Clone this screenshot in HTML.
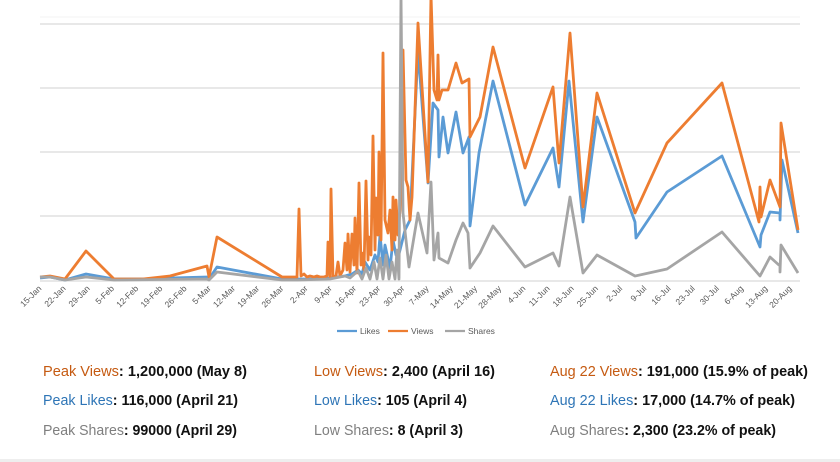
<!DOCTYPE html>
<html><head><meta charset="utf-8"><style>
html,body{margin:0;padding:0;background:#fff;}
svg{display:block;}
.xl{font-family:"Liberation Sans",sans-serif;font-size:8.5px;fill:#595959;}
.st{font-family:"Liberation Sans",sans-serif;font-size:15px;font-weight:bold;fill:#111;}
</style></head><body>
<svg width="840" height="462" viewBox="0 0 840 462" xmlns="http://www.w3.org/2000/svg">
<rect width="840" height="462" fill="#fff"/>
<line x1="40" y1="17" x2="800" y2="17" stroke="#f3f3f3" stroke-width="1"/>
<g stroke="#dadada" stroke-width="1.3">
<line x1="40" y1="24" x2="800" y2="24"/>
<line x1="40" y1="88" x2="800" y2="88"/>
<line x1="40" y1="152" x2="800" y2="152"/>
<line x1="40" y1="216" x2="800" y2="216"/>
<line x1="40" y1="281" x2="800" y2="281"/>
</g>
<g fill="none" stroke-width="2.8" stroke-linejoin="round">
<polyline stroke="#5B9BD5" points="40,278 50,277 55,278 65,280 86,274 114,279 143,279 170,278 207,277 209,279 217,267 282,279 298,279 315,279 330,278 345,276 352,274 358,270 362,274 365,262 370,270 375,255 378,262 380,235 383,265 385,245 390,268 393,240 396,255 398,258 400,250 405,230 410,220 418,50 428,183 433,103 438,110 439,157 443,117 448,153 456,112 463,153 469,137 470,226 479,153 493,81 525,205 553,148 559,187 569,81 583,222 597,117 635,222 636,238 667,192 722,156 760,247 761,235 770,212 780,213 780,220 782,160 798,233"/>
<polyline stroke="#ED7D31" points="40,277 50,276 55,277 65,279 86,251 114,279 143,279 170,276 207,266 209,277 217,237 282,277 297,277 299,209 301,276 304,274 307,277 310,276 314,277 317,276 320,277 324,277 327,276 328,242 330,277 331,189 333,277 336,276 338,262 340,276 343,270 345,243 347,270 348,234 350,272 352,234 354,265 355,218 357,273 359,183 361,265 362,253 364,270 366,181 368,260 369,237 371,255 373,136 375,250 376,198 378,235 379,152 381,240 383,53 385,220 388,233 390,210 392,250 393,197 395,240 396,200 398,235 400,210 403,50 406,180 408,187 410,220 412,197 418,23 428,182 431,-5 434,90 437,100 438,55 439,100 442,90 448,90 456,63 462,83 469,79 470,137 480,117 493,47 525,168 553,87 559,163 570,33 583,207 597,93 635,213 667,143 722,83 759,222 760,187 761,217 770,180 780,207 781,123 798,230"/>
<polyline stroke="#A5A5A5" points="40,277 50,277 65,280 86,277 114,280 207,279 209,280 217,272 282,280 298,280 330,279 345,276 350,278 358,271 362,279 366,268 370,279 374,262 377,279 380,258 383,279 386,255 389,279 392,262 395,279 397,250 399,279 401,-5 403,213 406,240 409,267 418,213 427,253 431,182 434,260 438,233 439,258 448,263 456,240 463,223 468,233 470,268 480,253 493,226 525,267 553,253 559,266 570,197 583,273 597,255 635,276 667,269 722,232 760,276 770,257 780,266 780,272 781,245 798,273"/>
</g>
<g font-family="Liberation Sans, sans-serif" font-size="8.5" fill="#595959">
<line x1="337" y1="331" x2="357" y2="331" stroke="#5B9BD5" stroke-width="2.2"/>
<text x="360" y="334">Likes</text>
<line x1="388" y1="331" x2="408" y2="331" stroke="#ED7D31" stroke-width="2.2"/>
<text x="411" y="334">Views</text>
<line x1="445" y1="331" x2="465" y2="331" stroke="#A5A5A5" stroke-width="2.2"/>
<text x="468" y="334">Shares</text>
</g>
<g class="st">
<text x="43" y="376" textLength="204" lengthAdjust="spacingAndGlyphs"><tspan fill="#C55A11" font-weight="normal">Peak Views</tspan>: 1,200,000 (May 8)</text>
<text x="43" y="405" textLength="195" lengthAdjust="spacingAndGlyphs"><tspan fill="#2E75B6" font-weight="normal">Peak Likes</tspan>: 116,000 (April 21)</text>
<text x="43" y="435" textLength="194" lengthAdjust="spacingAndGlyphs"><tspan fill="#7F7F7F" font-weight="normal">Peak Shares</tspan>: 99000 (April 29)</text>
<text x="314" y="376" textLength="181" lengthAdjust="spacingAndGlyphs"><tspan fill="#C55A11" font-weight="normal">Low Views</tspan>: 2,400 (April 16)</text>
<text x="314" y="405" textLength="153" lengthAdjust="spacingAndGlyphs"><tspan fill="#2E75B6" font-weight="normal">Low Likes</tspan>: 105 (April 4)</text>
<text x="314" y="435" textLength="149" lengthAdjust="spacingAndGlyphs"><tspan fill="#7F7F7F" font-weight="normal">Low Shares</tspan>: 8 (April 3)</text>
<text x="550" y="376" textLength="258" lengthAdjust="spacingAndGlyphs"><tspan fill="#C55A11" font-weight="normal">Aug 22 Views</tspan>: 191,000 (15.9% of peak)</text>
<text x="550" y="405" textLength="245" lengthAdjust="spacingAndGlyphs"><tspan fill="#2E75B6" font-weight="normal">Aug 22 Likes</tspan>: 17,000 (14.7% of peak)</text>
<text x="550" y="435" textLength="226" lengthAdjust="spacingAndGlyphs"><tspan fill="#7F7F7F" font-weight="normal">Aug Shares</tspan>: 2,300 (23.2% of peak)</text>
</g>
<rect x="0" y="459" width="840" height="3" fill="#eeeeee"/>
<g class="xl">
<text transform="translate(42,289) rotate(-45)" text-anchor="end">15-Jan</text>
<text transform="translate(66.2,289) rotate(-45)" text-anchor="end">22-Jan</text>
<text transform="translate(90.4,289) rotate(-45)" text-anchor="end">29-Jan</text>
<text transform="translate(114.6,289) rotate(-45)" text-anchor="end">5-Feb</text>
<text transform="translate(138.8,289) rotate(-45)" text-anchor="end">12-Feb</text>
<text transform="translate(163,289) rotate(-45)" text-anchor="end">19-Feb</text>
<text transform="translate(187.2,289) rotate(-45)" text-anchor="end">26-Feb</text>
<text transform="translate(211.4,289) rotate(-45)" text-anchor="end">5-Mar</text>
<text transform="translate(235.6,289) rotate(-45)" text-anchor="end">12-Mar</text>
<text transform="translate(259.8,289) rotate(-45)" text-anchor="end">19-Mar</text>
<text transform="translate(284,289) rotate(-45)" text-anchor="end">26-Mar</text>
<text transform="translate(308.2,289) rotate(-45)" text-anchor="end">2-Apr</text>
<text transform="translate(332.4,289) rotate(-45)" text-anchor="end">9-Apr</text>
<text transform="translate(356.6,289) rotate(-45)" text-anchor="end">16-Apr</text>
<text transform="translate(380.8,289) rotate(-45)" text-anchor="end">23-Apr</text>
<text transform="translate(405,289) rotate(-45)" text-anchor="end">30-Apr</text>
<text transform="translate(429.2,289) rotate(-45)" text-anchor="end">7-May</text>
<text transform="translate(453.4,289) rotate(-45)" text-anchor="end">14-May</text>
<text transform="translate(477.6,289) rotate(-45)" text-anchor="end">21-May</text>
<text transform="translate(501.8,289) rotate(-45)" text-anchor="end">28-May</text>
<text transform="translate(526,289) rotate(-45)" text-anchor="end">4-Jun</text>
<text transform="translate(550.2,289) rotate(-45)" text-anchor="end">11-Jun</text>
<text transform="translate(574.4,289) rotate(-45)" text-anchor="end">18-Jun</text>
<text transform="translate(598.6,289) rotate(-45)" text-anchor="end">25-Jun</text>
<text transform="translate(622.8,289) rotate(-45)" text-anchor="end">2-Jul</text>
<text transform="translate(647,289) rotate(-45)" text-anchor="end">9-Jul</text>
<text transform="translate(671.2,289) rotate(-45)" text-anchor="end">16-Jul</text>
<text transform="translate(695.4,289) rotate(-45)" text-anchor="end">23-Jul</text>
<text transform="translate(719.6,289) rotate(-45)" text-anchor="end">30-Jul</text>
<text transform="translate(743.8,289) rotate(-45)" text-anchor="end">6-Aug</text>
<text transform="translate(768,289) rotate(-45)" text-anchor="end">13-Aug</text>
<text transform="translate(792.2,289) rotate(-45)" text-anchor="end">20-Aug</text>
</g>
</svg>
</body></html>
